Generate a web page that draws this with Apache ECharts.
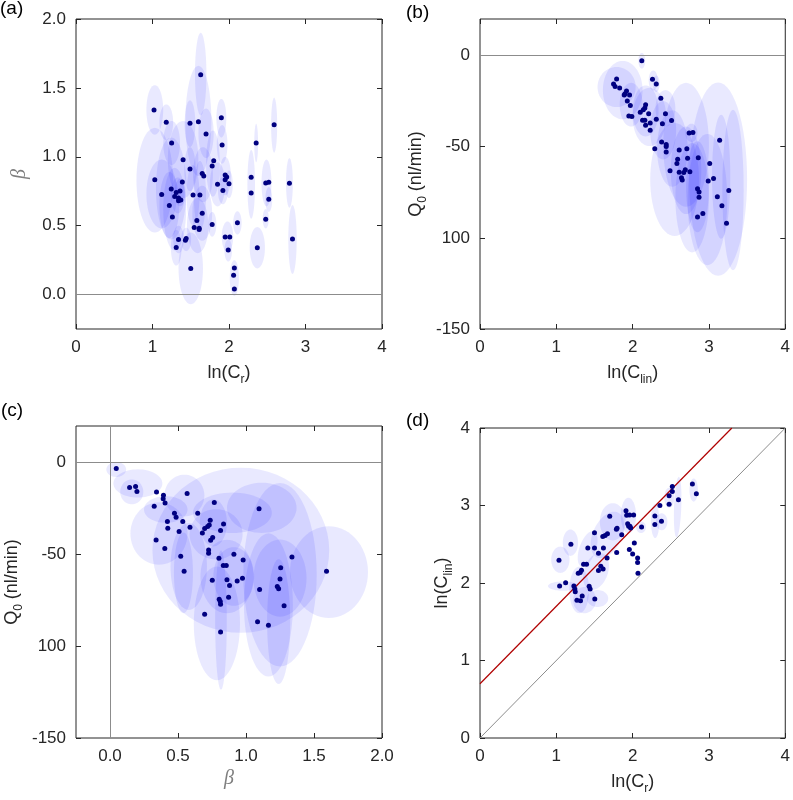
<!DOCTYPE html>
<html lang="en">
<head>
<meta charset="UTF-8">
<title>Fit parameters</title>
<script src="https://cdn.jsdelivr.net/npm/echarts@6.0.0/dist/echarts.min.js"></script>
<style>
html, body {margin:0; padding:0; background:#fff;}
#main {width:793px; height:800px;}
</style>
</head>
<body>
<div id="main"></div>
<script>
// ---- panel (a): ln(Cr) vs beta ----
var aLnCr = [1.02,1.18,1.25,1.03,1.12,1.245,1.22,1.26,1.29,1.31,1.34,1.36,1.34,1.37,1.39,1.40,1.49,1.49,1.53,1.60,
             1.63,1.70,1.62,1.65,1.67,1.78,1.80,1.85,1.90,1.91,1.92,1.95,1.97,1.95,2.00,1.65,1.58,1.545,1.61,1.61,
             1.78,1.34,1.43,1.44,1.31,1.50,1.95,2.01,1.99,2.07,2.06,2.07,2.11,2.29,2.29,2.355,2.37,2.48,2.52,2.52,
             2.48,2.59,2.79,2.83];
var aBeta = [1.34,1.25,1.10,0.834,0.726,0.767,0.646,0.563,0.711,0.74,0.70,0.752,0.68,0.687,0.817,0.979,1.243,0.912,0.723,1.255,
             1.596,1.166,0.723,0.878,0.861,0.933,0.972,0.80,1.284,1.086,0.755,0.868,0.854,0.834,0.805,0.59,0.537,0.486,0.481,0.472,
             0.508,0.40,0.394,0.406,0.341,0.189,0.418,0.418,0.324,0.193,0.140,0.041,0.522,0.851,0.738,1.10,0.339,0.81,0.815,0.692,
             0.547,1.233,0.808,0.404];
// ellipses: [centre x, centre y, half width, half height, correlation]
var aEllipses = [
  [1.03,1.34,0.11,0.18,0],[1.18,1.25,0.09,0.13,0],[1.25,1.10,0.11,0.16,0],[1.03,0.83,0.24,0.38,0],
  [1.12,0.73,0.20,0.25,0],[1.245,0.77,0.20,0.37,0],[1.22,0.65,0.13,0.24,0],[1.29,0.62,0.15,0.30,0],
  [1.33,0.72,0.09,0.13,0],[1.36,0.74,0.07,0.10,0],[1.40,0.98,0.20,0.28,0],[1.49,1.24,0.07,0.17,0],
  [1.49,0.91,0.075,0.16,0],[1.53,0.72,0.085,0.22,0],[1.60,1.26,0.17,0.40,0],[1.63,1.60,0.075,0.30,0],
  [1.70,1.17,0.10,0.18,0],[1.62,0.72,0.08,0.25,0],[1.66,0.87,0.13,0.20,0],[1.79,0.95,0.09,0.24,0],
  [1.85,0.80,0.10,0.16,0],[1.90,1.28,0.065,0.14,0],[1.91,1.09,0.07,0.14,0],[1.92,0.755,0.065,0.10,0],
  [1.95,0.86,0.075,0.14,0],[2.00,0.80,0.05,0.10,0],[1.65,0.59,0.13,0.20,0],[1.59,0.50,0.14,0.20,0],
  [1.78,0.51,0.055,0.09,0],[1.34,0.40,0.07,0.10,0],[1.44,0.40,0.065,0.085,0],[1.31,0.34,0.07,0.13,0],
  [1.50,0.19,0.16,0.26,0],[1.98,0.42,0.075,0.11,0],[1.99,0.32,0.05,0.08,0],[2.07,0.12,0.06,0.13,0],
  [2.11,0.52,0.055,0.085,0],[2.29,0.80,0.05,0.25,0],[2.355,1.10,0.025,0.14,0],[2.37,0.34,0.10,0.15,0],
  [2.49,0.81,0.065,0.17,0],[2.52,0.69,0.045,0.09,0],[2.48,0.55,0.04,0.07,0],[2.59,1.23,0.04,0.20,0],
  [2.79,0.81,0.045,0.18,0],[2.83,0.40,0.055,0.25,0]
];

// ---- panel (b): ln(Clin) vs Q0 ----
var bLnClin = [2.12,1.79,1.75,1.77,1.83,1.90,1.92,1.89,1.96,1.93,1.97,1.95,1.99,2.10,2.14,2.17,2.16,2.13,2.16,2.17,
               2.21,2.23,2.23,2.26,2.31,2.37,2.31,2.43,2.39,2.51,2.29,2.38,2.44,2.44,2.44,2.49,2.61,2.59,2.58,2.61,
               2.64,2.65,2.69,2.67,2.71,2.72,2.75,2.74,2.79,2.86,2.85,2.87,2.87,2.85,2.92,3.01,2.99,3.06,3.14,3.11,
               3.17,3.23,3.26];
var bQ0 = [-2.9,-12.9,-15.7,-17,-17.9,-21,-19.5,-21.7,-21.7,-25,-27.5,-33.2,-33.4,-31.2,-29.7,-27,-28.8,-35.5,-35.5,-38.3,
           -31.9,-37,-41,-13.1,-15.7,-23.5,-35,-31.9,-37.4,-35.7,-51.2,-47.4,-48.8,-49.9,-52.9,-63.2,-51.9,-56.9,-59.2,-64,
           -67,-68.3,-62.7,-64.2,-51.2,-56.3,-63.8,-42.5,-42.3,-56.1,-73.1,-74.9,-77.8,-88.6,-86.6,-59.2,-68.9,-67.4,-46.5,-77.5,
           -82.4,-92,-74];
var bEllipses = [
  [3.12,-67.8,0.38,53,0],[3.315,-73.8,0.14,44,0],[3.16,-66.5,0.12,34,0],[2.98,-79,0.26,36,0],
  [2.78,-78,0.22,30,0],[2.55,-68,0.32,31,0],[2.70,-49,0.30,34,0],[2.52,-51,0.20,21,0],
  [2.70,-63,0.20,24,0],[2.40,-41,0.17,16,0],[2.22,-33.7,0.22,16,0],[2.17,-30.4,0.17,14,0],
  [1.87,-19,0.26,16,0],[1.79,-17.3,0.25,11,0],[1.98,-27,0.15,12,0],[2.12,-2.9,0.045,4.3,0],
  [2.27,-13.7,0.06,5.5,0],[2.31,-15.5,0.045,4.5,0],[2.43,-29,0.13,10,0],[2.85,-72,0.15,25,0],
  [2.77,-42.4,0.08,5,0]
];

// ---- panel (c): beta vs Q0 ----
var cBeta = [0.046,0.144,0.188,0.198,0.342,0.393,0.391,0.405,0.325,0.567,0.767,1.096,0.474,0.486,0.422,0.425,0.339,0.403,0.508,0.535,
             0.588,0.645,0.679,0.696,0.718,0.737,0.730,0.755,0.740,0.835,0.813,0.725,0.725,0.801,0.911,0.52,0.545,0.752,0.833,0.855,
             0.86,0.879,0.935,0.979,0.974,0.803,0.811,0.813,0.872,0.696,0.813,1.10,1.085,1.165,1.255,1.25,1.23,1.24,1.28,1.338,
             1.592];
var cQ0 = [-3.1,-13.5,-12.9,-15.7,-15.9,-17.7,-19.7,-22,-23.7,-16.8,-21.7,-25.1,-27.5,-29.7,-32.1,-35.7,-42.1,-46.7,-37.5,-32.1,
           -35.2,-27.5,-38.3,-35.9,-34.8,-31.4,-34,-40.8,-42.3,-33.4,-37,-47.6,-49.4,-52.1,-49.9,-51,-59.2,-64,-56,-56,
           -63.8,-66.9,-64.5,-53,-63,-74.4,-75.6,-77.1,-73.3,-82.6,-92.2,-69.1,-86.6,-88.6,-57.2,-63.4,-67.4,-68.7,-78,-51.4,
           -59.2];
var cEllipses = [
  [1.61,-59.6,0.287,25,0],[0.962,-47.7,0.65,45,0],[1.116,-24.6,0.256,13.7,0],[1.25,-61,0.27,50,0],
  [0.816,-85.7,0.043,38,0],[0.786,-87.5,0.17,31,0],[1.165,-77.5,0.18,39,0],[1.24,-86.6,0.085,34,0],
  [0.046,-3.7,0.073,4.1,0],[0.205,-11.3,0.18,7.7,0],[0.16,-15.9,0.085,6.8,0],[0.36,-38.6,0.21,17,0],
  [0.41,-25.5,0.16,7.3,0],[0.547,-17.9,0.147,11.4,0],[0.579,-56.5,0.134,23.7,0],[0.90,-27.3,0.29,11,0],
  [0.86,-62,0.195,20,0],[0.78,-39,0.195,13.7,0],[0.91,-62,0.15,16,0],[1.25,-62.9,0.195,21,0],
  [0.54,-60,0.07,22,0],[0.76,-32.8,0.10,12.8,0]
];

// ---- panel (d): ln(Cr) vs ln(Clin) ----
var dLnCr = [1.035,1.043,1.122,1.191,1.23,1.243,1.248,1.27,1.317,1.339,1.287,1.313,1.33,1.357,1.396,1.413,1.43,1.443,1.50,1.50,
             1.504,1.552,1.552,1.583,1.613,1.617,1.609,1.639,1.67,1.665,1.70,1.787,1.796,1.791,1.857,1.913,1.922,1.935,1.948,1.965,
             1.974,1.961,2.013,1.957,2.0,2.022,2.065,2.065,2.07,2.117,2.291,2.291,2.378,2.357,2.478,2.478,2.52,2.52,2.60,2.783,
             2.835];
var dLnClin = [2.293,1.961,2.004,2.50,1.961,1.922,1.888,1.776,1.772,1.832,2.125,2.134,2.164,2.241,2.241,2.453,1.957,1.922,2.647,2.453,
               1.793,2.384,2.16,2.216,2.181,2.453,2.60,2.612,2.634,2.323,2.862,2.694,2.707,2.392,2.621,2.931,2.875,2.763,2.733,2.733,
               2.711,2.879,2.879,2.431,2.375,2.517,2.323,2.263,2.125,2.724,2.866,2.754,2.797,3.0,3.017,3.125,3.181,3.246,3.073,3.276,
               3.151];
var dEllipses = [
  [1.09,1.96,0.20,0.06,0],[1.053,2.30,0.12,0.17,0],[1.185,2.52,0.10,0.17,0],[1.30,1.91,0.13,0.30,0],
  [1.41,2.44,0.13,0.23,0.5],[1.37,1.78,0.15,0.17,0],[1.54,1.80,0.14,0.11,0],[1.67,2.62,0.22,0.30,0.4],
  [1.74,2.79,0.17,0.24,0],[1.945,2.87,0.10,0.23,0],[1.52,2.15,0.17,0.24,0.3],[2.11,2.72,0.065,0.075,0],
  [2.295,2.80,0.055,0.22,0],[2.38,2.79,0.076,0.11,0],[2.48,3.10,0.065,0.13,0],[2.59,2.98,0.05,0.39,0.3],
  [2.80,3.20,0.055,0.15,0]
];
// identity line and fitted offset line in panel (d)
var unityLine = [[0, 0], [4, 4]];
var fitLine = [[0, 0.7], [3.3, 4]];

// tick positions
var ticks04 = [0, 1, 2, 3, 4];
var ticksBeta = [0, 0.5, 1, 1.5, 2];
var ticksQ = [-150, -100, -50, 0];
var qLabels = {'-150': '-150', '-100': '100', '-50': '-50', '0': '0'};

var axisColor = '#262626';
var fontFam = 'Liberation Sans, Arial, sans-serif';

function zip(xs, ys) {
    var out = [];
    for (var i = 0; i < xs.length; i++) out.push([xs[i], ys[i]]);
    return out;
}

// draws an ellipse polygon in data space, mapped through the axes
function ellipseItem(params, api) {
    var cx = api.value(0), cy = api.value(1), rx = api.value(2), ry = api.value(3), rho = api.value(4) || 0;
    var k = Math.sqrt(1 - rho * rho);
    var pts = [];
    for (var i = 0; i < 60; i++) {
        var t = i / 60 * Math.PI * 2;
        var c = Math.cos(t), s = Math.sin(t);
        pts.push(api.coord([cx + rx * c, cy + ry * (rho * c + k * s)]));
    }
    var cs = params.coordSys;
    return {
        type: 'polygon',
        shape: {points: pts},
        style: {fill: 'rgba(0,0,255,0.085)'},
        clipPath: {type: 'rect', shape: {x: cs.x, y: cs.y, width: cs.width, height: cs.height}}
    };
}

function fmt1(v) { return v.toFixed(1); }
function fmt0(v) { return String(v); }
function fmtQ(v) { return qLabels[String(v)]; }

function valueAxis(gi, min, max, ticks, fmt, extra) {
    var ax = {
        type: 'value', gridIndex: gi, min: min, max: max,
        axisLine: {show: false, onZero: false},
        axisTick: {show: true, inside: true, length: 5, customValues: ticks, lineStyle: {color: axisColor}},
        axisLabel: {show: true, customValues: ticks, formatter: fmt, margin: 10,
            color: axisColor, fontSize: 17, fontFamily: fontFam},
        splitLine: {show: false}
    };
    for (var k in extra) ax[k] = extra[k];
    return ax;
}
function mirrorAxis(gi, min, max, ticks, pos) {
    return {
        type: 'value', gridIndex: gi, min: min, max: max, position: pos,
        axisLine: {show: false, onZero: false},
        axisTick: {show: true, inside: true, length: 5, customValues: ticks, lineStyle: {color: axisColor}},
        axisLabel: {show: false},
        splitLine: {show: false}
    };
}

var richName = {
    t: {fontSize: 18, color: axisColor, fontFamily: fontFam},
    s: {fontSize: 12, color: axisColor, fontFamily: fontFam, padding: [14, 0, 0, 0]}
};
var betaName = {fontSize: 20, fontStyle: 'italic', color: '#7f7f7f', fontFamily: 'Liberation Serif, serif'};
var plainName = {fontSize: 18, color: axisColor, fontFamily: fontFam, rich: richName};

var grids = [
    {left: 76, top: 19, width: 306, height: 310},
    {left: 480, top: 19, width: 307, height: 310},
    {left: 76, top: 426, width: 306, height: 312},
    {left: 480, top: 428, width: 307, height: 310}
];
grids.forEach(function (g) {
    g.show = true; g.borderColor = axisColor; g.borderWidth = 1; g.backgroundColor = 'transparent';
});

var xAxes = [
    valueAxis(0, 0, 4, ticks04, fmt0, {name: '{t|ln(C}{s|r}{t|)}', nameLocation: 'middle', nameGap: 31, nameTextStyle: plainName}),
    valueAxis(1, 0, 4, ticks04, fmt0, {name: '{t|ln(C}{s|lin}{t|)}', nameLocation: 'middle', nameGap: 31, nameTextStyle: plainName}),
    valueAxis(2, -0.25, 2, ticksBeta, fmt1, {name: 'β', nameLocation: 'middle', nameGap: 31, nameTextStyle: betaName}),
    valueAxis(3, 0, 4, ticks04, fmt0, {name: '{t|ln(C}{s|r}{t|)}', nameLocation: 'middle', nameGap: 31, nameTextStyle: plainName}),
    mirrorAxis(0, 0, 4, ticks04, 'top'),
    mirrorAxis(1, 0, 4, ticks04, 'top'),
    mirrorAxis(2, -0.25, 2, ticksBeta, 'top'),
    mirrorAxis(3, 0, 4, ticks04, 'top')
];
var yAxes = [
    valueAxis(0, -0.25, 2, ticksBeta, fmt1, {name: 'β', nameLocation: 'middle', nameGap: 46, nameTextStyle: betaName}),
    valueAxis(1, -150, 20, ticksQ, fmtQ, {name: '{t|Q}{s|0}{t| (nl/min)}', nameLocation: 'middle', nameGap: 51, nameTextStyle: plainName}),
    valueAxis(2, -150, 20, ticksQ, fmtQ, {name: '{t|Q}{s|0}{t| (nl/min)}', nameLocation: 'middle', nameGap: 51, nameTextStyle: plainName}),
    valueAxis(3, 0, 4, ticks04, fmt0, {name: '{t|ln(C}{s|lin}{t|)}', nameLocation: 'middle', nameGap: 25, nameTextStyle: plainName}),
    mirrorAxis(0, -0.25, 2, ticksBeta, 'right'),
    mirrorAxis(1, -150, 20, ticksQ, 'right'),
    mirrorAxis(2, -150, 20, ticksQ, 'right'),
    mirrorAxis(3, 0, 4, ticks04, 'right')
];

var grayLine = {color: '#8c8c8c', width: 1, type: 'solid'};
function marks(data) {
    return {silent: true, symbol: ['none', 'none'], label: {show: false}, lineStyle: grayLine,
            animation: false, data: data};
}

var series = [];
var allPoints = [zip(aLnCr, aBeta), zip(bLnClin, bQ0), zip(cBeta, cQ0), zip(dLnCr, dLnClin)];
var allEllipses = [aEllipses, bEllipses, cEllipses, dEllipses];
var allMarks = [
    marks([{yAxis: 0}]),
    marks([{yAxis: 0}]),
    marks([{yAxis: 0}, {xAxis: 0}]),
    null
];
for (var p = 0; p < 4; p++) {
    var ell = {
        type: 'custom', xAxisIndex: p, yAxisIndex: p, renderItem: ellipseItem,
        data: allEllipses[p], silent: true, z: 1, animation: false
    };
    if (allMarks[p]) ell.markLine = allMarks[p];
    series.push(ell);
}
// reference lines of panel (d)
series.push({
    type: 'line', xAxisIndex: 3, yAxisIndex: 3, data: unityLine, showSymbol: false, symbol: 'none',
    lineStyle: {color: '#8c8c8c', width: 1}, silent: true, z: 2, animation: false
});
series.push({
    type: 'line', xAxisIndex: 3, yAxisIndex: 3, data: fitLine, showSymbol: false, symbol: 'none',
    lineStyle: {color: '#b00000', width: 1.2}, silent: true, z: 2, animation: false
});
for (var q = 0; q < 4; q++) {
    series.push({
        type: 'scatter', xAxisIndex: q, yAxisIndex: q, data: allPoints[q],
        symbolSize: 5, itemStyle: {color: '#000080', opacity: 1}, z: 3, animation: false
    });
}

var panelText = {fontSize: 19, fill: '#000', fontFamily: fontFam};
var option = {
    backgroundColor: '#fff',
    animation: false,
    grid: grids,
    xAxis: xAxes,
    yAxis: yAxes,
    series: series,
    graphic: [
        {type: 'text', left: 0, top: -1, style: Object.assign({text: '(a)'}, panelText)},
        {type: 'text', left: 406, top: 3, style: Object.assign({text: '(b)'}, panelText)},
        {type: 'text', left: 1, top: 401, style: Object.assign({text: '(c)'}, panelText)},
        {type: 'text', left: 406, top: 411, style: Object.assign({text: '(d)'}, panelText)}
    ]
};

var myChart = echarts.init(document.getElementById('main'));
myChart.setOption(option);
</script>
</body>
</html>
